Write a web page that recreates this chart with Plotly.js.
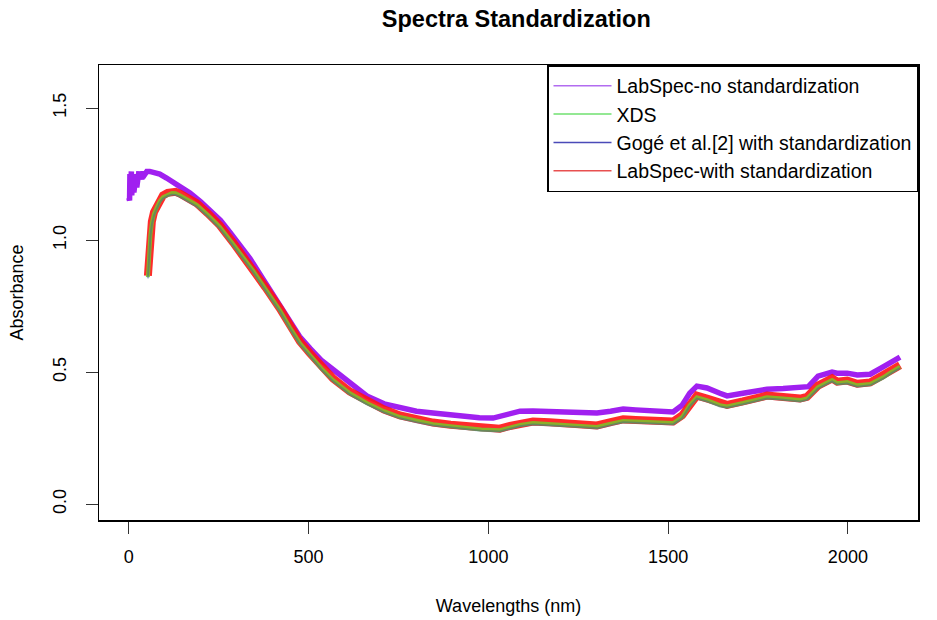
<!DOCTYPE html>
<html>
<head>
<meta charset="utf-8">
<script src="https://cdn.plot.ly/plotly-3.0.1.min.js"></script>
<style>html,body{margin:0;padding:0;background:#fff;}#chart{width:937px;height:620px;}</style>
</head>
<body>
<div id="chart"></div>
<script>
// LabSpec - no standardization (purple)
const noStdX = [0,1,2,3,4,5,6,7,8,9,10,12,14,16,18,20,22,24,26,28,30,33,36,40,45,50,58,70,86,105,128,150,170,200,225,255,281,310,337,365,392,420,448,475,504,535,568,615,662,710,754,800,846,895,940,975,1013,1052,1088,1124,1170,1219,1260,1302,1340,1375,1410,1450,1480,1514,1539,1560,1580,1608,1644,1664,1708,1775,1820,1867,1890,1917,1956,1970,1998,2026,2062,2098,2120,2145];
const noStdY = [1.16,1.22,1.15,1.25,1.17,1.24,1.19,1.26,1.17,1.23,1.20,1.25,1.18,1.24,1.21,1.25,1.20,1.25,1.22,1.26,1.23,1.25,1.23,1.26,1.25,1.26,1.26,1.255,1.25,1.235,1.216,1.195,1.178,1.145,1.114,1.075,1.03,0.98,0.93,0.87,0.81,0.75,0.69,0.635,0.59,0.545,0.51,0.46,0.41,0.38,0.364,0.352,0.345,0.337,0.33,0.327,0.326,0.337,0.352,0.353,0.351,0.348,0.346,0.345,0.352,0.36,0.357,0.353,0.351,0.349,0.375,0.42,0.447,0.44,0.42,0.41,0.42,0.435,0.438,0.44,0.445,0.485,0.50,0.496,0.496,0.489,0.492,0.52,0.54,0.557];

// standardized spectra share one wavelength grid
const stdX = [53,56,60,64,70,78,86,95,108,120,130,142,165,189,220,253,290,320,345,380,420,448,476,504,535,568,615,662,710,754,800,846,895,940,980,1032,1060,1088,1124,1170,1219,1260,1302,1340,1375,1410,1450,1480,1514,1539,1560,1580,1608,1644,1664,1708,1775,1820,1867,1886,1917,1956,1970,1998,2026,2062,2098,2120,2145];
const xdsY = [0.86,0.95,1.02,1.064,1.10,1.125,1.148,1.163,1.173,1.178,1.177,1.17,1.152,1.133,1.095,1.05,0.985,0.93,0.886,0.815,0.735,0.67,0.61,0.565,0.515,0.47,0.42,0.383,0.352,0.33,0.315,0.303,0.295,0.288,0.283,0.28,0.29,0.30,0.307,0.304,0.30,0.296,0.292,0.305,0.315,0.313,0.31,0.309,0.307,0.33,0.375,0.405,0.394,0.375,0.37,0.383,0.405,0.40,0.394,0.40,0.443,0.47,0.458,0.462,0.45,0.455,0.48,0.50,0.52];
const gogeY = [0.855,0.945,1.015,1.058,1.094,1.119,1.142,1.157,1.167,1.172,1.171,1.164,1.146,1.127,1.089,1.044,0.979,0.924,0.88,0.809,0.729,0.664,0.604,0.56,0.51,0.465,0.415,0.378,0.347,0.325,0.31,0.298,0.29,0.283,0.278,0.275,0.285,0.295,0.302,0.299,0.295,0.291,0.287,0.3,0.31,0.308,0.305,0.304,0.302,0.325,0.37,0.4,0.389,0.37,0.365,0.378,0.4,0.395,0.389,0.395,0.438,0.465,0.453,0.457,0.445,0.45,0.475,0.495,0.515];
const labStdY = [0.865,0.955,1.026,1.07,1.106,1.131,1.154,1.169,1.179,1.184,1.183,1.176,1.158,1.139,1.101,1.056,0.991,0.936,0.892,0.821,0.741,0.676,0.616,0.571,0.521,0.476,0.426,0.389,0.358,0.336,0.321,0.309,0.301,0.294,0.289,0.286,0.296,0.306,0.313,0.31,0.306,0.302,0.298,0.311,0.321,0.319,0.316,0.315,0.313,0.336,0.381,0.411,0.4,0.381,0.376,0.389,0.411,0.406,0.4,0.406,0.449,0.476,0.464,0.468,0.456,0.461,0.486,0.506,0.526];

const legendNames = ["LabSpec-no standardization","XDS","Gogé et al.[2] with standardization","LabSpec-with standardization"];
const legendColors = ['#b26cf0','#6fe06f','#4a4ab8','#e85050'];

const traces = [
  {x: noStdX, y: noStdY, type: 'scatter', mode: 'lines', line: {color: '#a020f0', width: 5.5}, showlegend: false},
  {x: stdX, y: labStdY, type: 'scatter', mode: 'lines', line: {color: 'rgba(255,20,20,0.9)', width: 8}, showlegend: false},
  {x: stdX, y: xdsY, type: 'scatter', mode: 'lines', line: {color: 'rgba(120,200,40,0.85)', width: 4}, showlegend: false},
  {x: stdX, y: gogeY, type: 'scatter', mode: 'lines', line: {color: 'rgba(60,90,150,0.45)', width: 2}, showlegend: false}
];
// legend-only entries (thin line samples as in the reference)
legendNames.forEach((n, i) => {
  traces.push({x: [null], y: [null], name: n, type: 'scatter', mode: 'lines', line: {color: legendColors[i], width: 1.5}, showlegend: true});
});

const font = 'Liberation Sans, Arial, sans-serif';
const layout = {
  width: 937, height: 620,
  margin: {l: 99, r: 19, t: 65, b: 100},
  paper_bgcolor: '#fff', plot_bgcolor: '#fff',
  font: {family: font, color: '#000', size: 18},
  showlegend: true,
  title: {text: '<b>Spectra Standardization</b>', x: 0.551, xanchor: 'center', y: 0.97, yanchor: 'middle', font: {family: font, size: 23.5, color: '#000'}},
  xaxis: {
    range: [-83, 2195], tickvals: [0,500,1000,1500,2000], ticktext: ['0','500','1000','1500','2000'],
    showgrid: false, zeroline: false, showline: true, mirror: true, linecolor: '#000', linewidth: 1.5,
    ticks: 'outside', ticklen: 12, tickcolor: '#333', tickwidth: 1, ticklabelstandoff: 8,
    tickfont: {size: 18},
    title: {text: 'Wavelengths (nm)', font: {size: 18}, standoff: 33}
  },
  yaxis: {
    range: [-0.06, 1.663], tickvals: [0,0.5,1,1.5], ticktext: ['0.0','0.5','1.0','1.5'],
    showgrid: false, zeroline: false, showline: true, mirror: true, linecolor: '#000', linewidth: 1.5,
    ticks: 'outside', ticklen: 12, tickcolor: '#333', tickwidth: 1, tickangle: -90, ticklabelstandoff: 12,
    tickfont: {size: 18},
    title: {text: 'Absorbance', font: {size: 18}, standoff: 22}
  },
  legend: {
    x: 1, xanchor: 'right', y: 1, yanchor: 'top',
    bgcolor: '#fff', bordercolor: '#000', borderwidth: 1.5,
    font: {family: font, size: 19.5, color: '#000'},
    itemwidth: 58, tracegroupgap: 0,
    entrywidth: 352, entrywidthmode: 'pixels'
  }
};

Plotly.newPlot('chart', traces, layout, {displayModeBar: false, staticPlot: true});
</script>
</body>
</html>
